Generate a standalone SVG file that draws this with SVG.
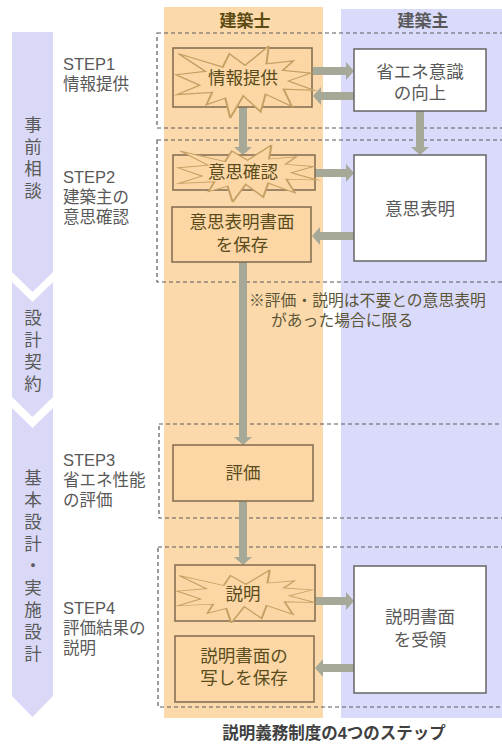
<svg xmlns="http://www.w3.org/2000/svg" xmlns:xlink="http://www.w3.org/1999/xlink" width="502" height="747" viewBox="0 0 502 747">
<style>
text{font-family:"Liberation Sans","Noto Sans CJK JP",sans-serif;}
.lbl{font-size:16.5px;fill:#595959;}
.vt{font-size:17.5px;fill:#595959;text-anchor:middle;}
.ot{font-size:17.5px;fill:#5a4c1c;text-anchor:middle;}
.wt{font-size:17.5px;fill:#595959;text-anchor:middle;}
.obox{fill:#fcd7a5;stroke:#7f6a4f;stroke-width:1.5;}
.wbox{fill:#ffffff;stroke:#666666;stroke-width:1.5;}
.dash{fill:none;stroke:#5a5a5a;stroke-width:1.2;stroke-dasharray:4 3;}
.arr{fill:#a6a898;}
.boom{fill:#fcd7a5;stroke:#c4a064;stroke-width:1.5;}
.chev{fill:#d9d9f7;}
</style>
<defs>
<path id="seal" d="M50,26.85 L67.23,0 L65.53,24.65 L85.09,20.64 L77.32,33.86 L97.67,37.67 L81.51,48.5 L100,61.53 L77.95,59.92 L84,83.77 L64.91,66.93 L61.33,91.37 L48.76,69.14 L39.29,100 L35.72,72.35 L22.05,81.56 L26.24,64.52 L0.63,67.53 L17.23,54.51 L0,39.88 L21.42,35.27 L1.71,10.63 L33.85,29.26 L38.67,10.63 Z"/>
</defs>
<rect width="502" height="747" fill="#ffffff"/>
<!-- lanes -->
<g id="lanes">
<rect x="164" y="7" width="159" height="711" fill="#fcd9aa"/>
<rect x="341" y="9" width="161" height="709" fill="#dadafb"/>
<text x="245" y="27" text-anchor="middle" font-size="17" font-weight="bold" fill="#5b4b12">建築士</text>
<text x="423" y="27" text-anchor="middle" font-size="17" font-weight="bold" fill="#595959">建築主</text>
</g>
<!-- phase chevrons -->
<g id="phases">
<polygon class="chev" points="12,32 53,32 53,272 32.5,292 12,272"/>
<polygon class="chev" points="12,282 32.5,302 53,282 53,397 32.5,417 12,397"/>
<polygon class="chev" points="12,408 32.5,428 53,408 53,696 32.5,717 12,696"/>
<text class="vt" x="33" y="131">事</text>
<text class="vt" x="33" y="153">前</text>
<text class="vt" x="33" y="175">相</text>
<text class="vt" x="33" y="197">談</text>
<text class="vt" x="33" y="324">設</text>
<text class="vt" x="33" y="346">計</text>
<text class="vt" x="33" y="368">契</text>
<text class="vt" x="33" y="390">約</text>
<text class="vt" x="33" y="484">基</text>
<text class="vt" x="33" y="506">本</text>
<text class="vt" x="33" y="528">設</text>
<text class="vt" x="33" y="550">計</text>
<text class="vt" x="33" y="572">・</text>
<text class="vt" x="33" y="594">実</text>
<text class="vt" x="33" y="616">施</text>
<text class="vt" x="33" y="638">設</text>
<text class="vt" x="33" y="660">計</text>
</g>
<!-- step frames -->
<g id="steps">
<rect class="dash" x="157" y="33" width="350" height="95"/>
<rect class="dash" x="157" y="140" width="350" height="142"/>
<rect class="dash" x="159" y="424" width="350" height="94"/>
<rect class="dash" x="158" y="547" width="350" height="160"/>
<text class="lbl" x="63" y="70">STEP1</text>
<text class="lbl" x="63" y="90">情報提供</text>
<text class="lbl" x="63" y="183">STEP2</text>
<text class="lbl" x="63" y="203">建築主の</text>
<text class="lbl" x="63" y="223">意思確認</text>
<text class="lbl" x="63" y="466">STEP3</text>
<text class="lbl" x="63" y="486">省エネ性能</text>
<text class="lbl" x="63" y="506">の評価</text>
<text class="lbl" x="63" y="614">STEP4</text>
<text class="lbl" x="63" y="634">評価結果の</text>
<text class="lbl" x="63" y="654">説明</text>
</g>
<!-- connectors -->
<g id="connectors">
<polygon class="arr" points="313,67 346,67 346,62 354,71 346,80 346,75 313,75"/>
<polygon class="arr" points="354,92 321,92 321,87 313,96 321,105 321,100 354,100"/>
<polygon class="arr" points="239,107 247,107 247,147 252,147 243,155 234,147 239,147"/>
<polygon class="arr" points="416,111 424,111 424,147 429,147 420,155 411,147 416,147"/>
<polygon class="arr" points="315,169 346,169 346,164 354,173 346,182 346,177 315,177"/>
<polygon class="arr" points="354,232 320,232 320,227 312,236 320,245 320,240 354,240"/>
<polygon class="arr" points="239,262 247,262 247,437 252,437 243,445 234,437 239,437"/>
<polygon class="arr" points="239,501 247,501 247,557 252,557 243,565 234,557 239,557"/>
<polygon class="arr" points="315,597 346,597 346,592 354,601 346,610 346,605 315,605"/>
<polygon class="arr" points="354,664 323,664 323,659 315,668 323,677 323,672 354,672"/>
</g>
<!-- nodes -->
<g id="n-info">
<rect class="obox" x="173" y="48" width="139" height="59"/>
<use xlink:href="#seal" class="boom" vector-effect="non-scaling-stroke" transform="translate(176,46) scale(1.38,0.72)"/>
<text class="ot" x="243" y="84">情報提供</text>
</g>
<g id="n-awareness">
<rect class="wbox" x="354" y="49" width="132" height="62"/>
<text class="wt" x="420" y="78">省エネ意識</text>
<text class="wt" x="420" y="99">の向上</text>
</g>
<g id="n-confirm">
<rect class="obox" x="173" y="155" width="142" height="35"/>
<use xlink:href="#seal" class="boom" vector-effect="non-scaling-stroke" transform="translate(178,145) scale(1.39,0.57)"/>
<text class="ot" x="243" y="178">意思確認</text>
</g>
<g id="n-intent">
<rect class="wbox" x="354" y="155" width="132" height="106"/>
<text class="wt" x="420" y="215">意思表明</text>
</g>
<g id="n-keep1">
<rect class="obox" x="172" y="207" width="139" height="55"/>
<text class="ot" x="242" y="228">意思表明書面</text>
<text class="ot" x="242" y="251">を保存</text>
</g>
<g id="n-note">
<text x="249" y="306" font-size="15.8" fill="#5b5638">※評価・説明は不要との意思表明</text>
<text x="271" y="326" font-size="15.8" fill="#5b5638">があった場合に限る</text>
</g>
<g id="n-eval">
<rect class="obox" x="173" y="445" width="140" height="56"/>
<text class="ot" x="243" y="479">評価</text>
</g>
<g id="n-explain">
<rect class="obox" x="175" y="565" width="140" height="56"/>
<use xlink:href="#seal" class="boom" vector-effect="non-scaling-stroke" transform="translate(177,570) scale(1.38,0.53)"/>
<text class="ot" x="243" y="600">説明</text>
</g>
<g id="n-receive">
<rect class="wbox" x="354" y="566" width="132" height="127"/>
<text class="wt" x="420" y="623">説明書面</text>
<text class="wt" x="420" y="646">を受領</text>
</g>
<g id="n-keep2">
<rect class="obox" x="175" y="636" width="139" height="66"/>
<text class="ot" x="244" y="662">説明書面の</text>
<text class="ot" x="244" y="684">写しを保存</text>
</g>
<g id="caption">
<text x="334" y="739" text-anchor="middle" font-size="16.5" font-weight="bold" fill="#404040">説明義務制度の4つのステップ</text>
</g>
</svg>
